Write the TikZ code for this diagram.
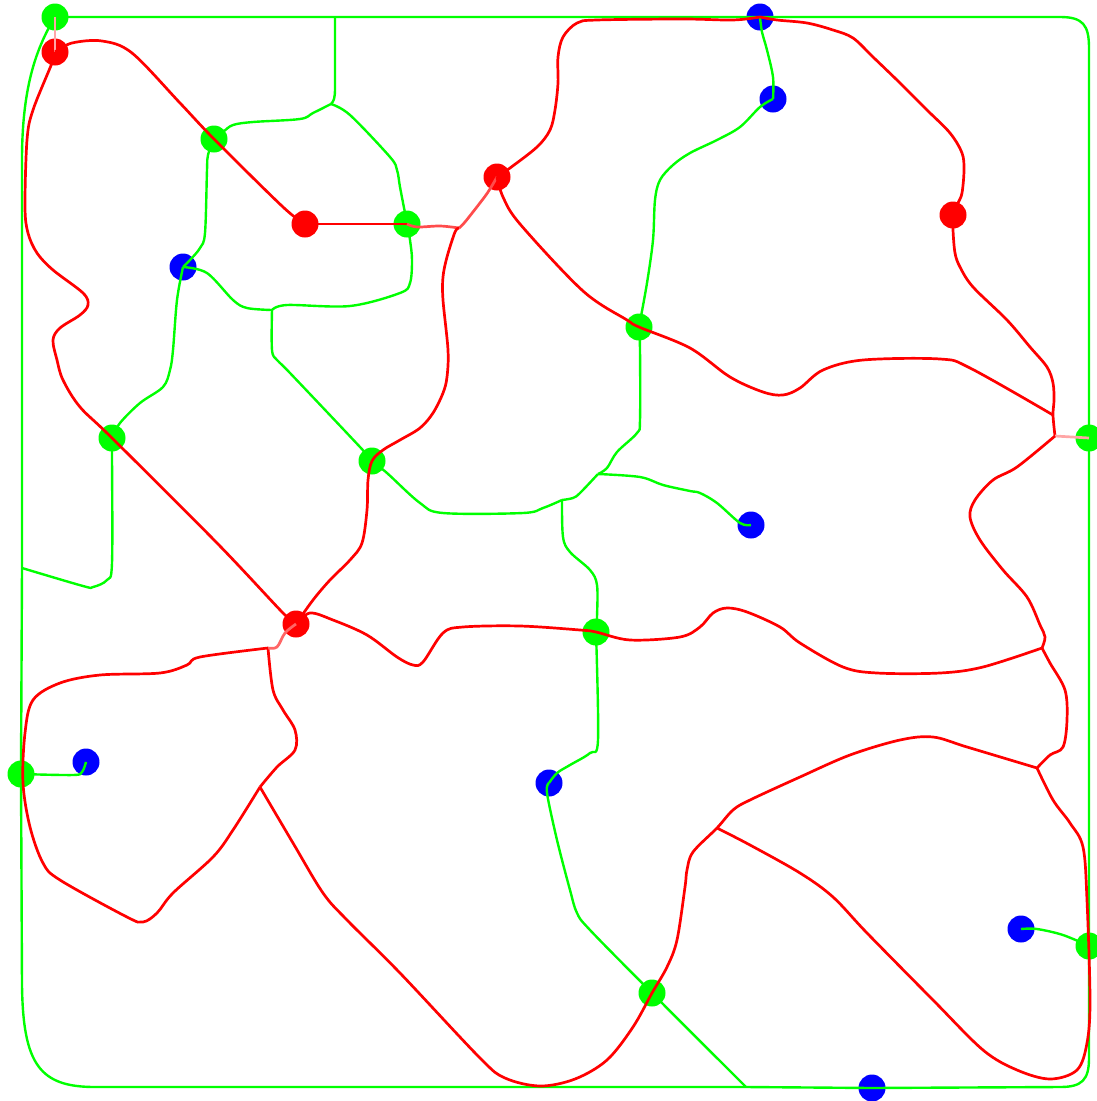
\documentclass[tikz,border=0pt]{standalone}
\usepackage{xcolor}
\usepackage{tikz}

\begin{document}
\begin{tikzpicture}[
  x=1pt, y=-1pt,
  gdot/.style={circle, fill=green, inner sep=0pt, minimum size=27pt},
  rdot/.style={circle, fill=red, inner sep=0pt, minimum size=27pt},
  bdot/.style={circle, fill=blue, inner sep=0pt, minimum size=27pt},
  gline/.style={draw=green, line width=2.4pt},
  rline/.style={draw=red, line width=2.7pt},
  pline/.style={draw=red!35, line width=2.7pt},
  crv/.style={smooth, tension=0.55}
]
\useasboundingbox (0,0) rectangle (1096,1101);
% --- green dots ---
\node[gdot] (g1) at (55,17) {};
\node[gdot] (g2) at (214,139) {};
\node[gdot] (g3) at (407,224) {};
\node[gdot] (g4) at (112,438) {};
\node[gdot] (g5) at (372,461) {};
\node[gdot] (g6) at (639,327) {};
\node[gdot] (g7) at (1089,438) {};
\node[gdot] (g8) at (596,632) {};
\node[gdot] (g9) at (21,774) {};
\node[gdot] (g10) at (652,993) {};
\node[gdot] (g11) at (1089,946) {};
% --- red dots ---
\node[rdot] (r1) at (55,52) {};
\node[rdot] (r2) at (305,224) {};
\node[rdot] (r3) at (497,177) {};
\node[rdot] (r4) at (953,215) {};
\node[rdot] (r5) at (296,624) {};
% --- blue dots ---
\node[bdot] (b1) at (760,17) {};
\node[bdot] (b2) at (773,99) {};
\node[bdot] (b3) at (183,267) {};
\node[bdot] (b4) at (751,525) {};
\node[bdot] (b5) at (86,762) {};
\node[bdot] (b6) at (549,783) {};
\node[bdot] (b7) at (1021,929) {};
\node[bdot] (b8) at (872,1088) {};
% --- junctions ---
\coordinate (jtop) at (335,17);
\coordinate (jbot) at (746,1087);
\coordinate (jleft) at (22,568);
\coordinate (jg1) at (331,104);
\coordinate (jg2) at (272,310);
\coordinate (jg3) at (562,500);
\coordinate (jg4) at (598,474);
\coordinate (jr1) at (459,228);
\coordinate (jr2) at (1055,436);
\coordinate (jr3) at (1053,415);
\coordinate (jr4) at (1042,648);
\coordinate (jr5) at (1037,768);
\coordinate (jr6) at (717,828);
\coordinate (jr7) at (260,787);
\coordinate (jr8) at (268,648);
% --- green border ---
\draw[gline] (g1.center) -- (jtop) -- (b1.center) -- (1060,17)
  .. controls (1083,17) and (1089,25) .. (1089,48) -- (g7.center) -- (g11.center)
  -- (1089,1058) .. controls (1089,1080) and (1082,1087) .. (1060,1087)
  -- (b8.center) -- (jbot) -- (95,1087) .. controls (40,1087) and (23,1065) .. (22,985)
  -- (g9.center) -- (jleft) -- (22,160) .. controls (22,90) and (35,50) .. (g1.center);
% --- green lines ---
\draw[gline] (jtop) -- (335,88) .. controls (335,98) and (334,101) .. (jg1);
\draw[gline] plot[crv] coordinates {(jg1) (313,113) (300,119) (253,122) (233,125) (223,132) (g2.center)};
\draw[gline] plot[crv] coordinates {(jg1) (350,115) (390,157) (397,170) (400,187) (405,213) (g3.center)};
\draw[gline] plot[crv] coordinates {(g2.center) (208,155) (207,170) (205,233) (200,248) (190,260) (b3.center)};
\draw[gline] plot[crv] coordinates {(b3.center) (177,300) (173,350) (170,370) (163,387) (140,403) (120,423) (g4.center)};
\draw[gline] plot[crv] coordinates {(b3.center) (207,273) (233,300) (247,308) (jg2)};
\draw[gline] plot[crv] coordinates {(jg2) (287,305) (350,306) (400,293) (410,283) (412,260) (410,240) (g3.center)};
\draw[gline] plot[crv] coordinates {(jg2) (272,350) (277,360) (290,373) (360,447) (g5.center)};
\draw[gline] plot[crv] coordinates {(g4.center) (112,453) (112,563) (107,580) (93,587) (83,586) (jleft)};
\draw[gline] plot[crv] coordinates {(g5.center) (387,473) (420,503) (443,513) (523,513) (543,508) (jg3)};
\draw[gline] plot[crv] coordinates {(jg3) (573,498) (580,493) (jg4)};
\draw[gline] plot[crv] coordinates {(jg3) (563,537) (570,552) (590,570) (597,585) (597,617) (g8.center)};
\draw[gline] plot[crv] coordinates {(jg4) (607,468) (617,452) (637,433) (640,420) (640,350) (g6.center)};
\draw[gline] plot[crv] coordinates {(jg4) (640,477) (663,485) (690,491) (700,493) (717,503) (740,523) (b4.center)};
\draw[gline] plot[crv] coordinates {(g6.center) (647,283) (653,240) (655,200) (660,180) (673,165) (690,153) (717,140) (740,127) (760,107) (b2.center)};
\draw[gline] plot[crv] coordinates {(b2.center) (773,77) (767,50) (762,32) (b1.center)};
\draw[gline] plot[crv] coordinates {(g8.center) (598,740) (590,753) (570,765) (557,773) (b6.center)};
\draw[gline] plot[crv] coordinates {(b6.center) (547,793) (557,840) (570,890) (577,913) (590,930) (g10.center) (jbot)};
\draw[gline] plot[crv] coordinates {(g9.center) (73,775) (82,772) (b5.center)};
\draw[gline] plot[crv] coordinates {(b7.center) (1037,929) (1063,935) (g11.center)};
% --- red lines ---
\draw[pline] (g1.center) -- (r1.center);
\draw[rline] plot[crv] coordinates {(r1.center) (72,43) (102,41) (132,53) (180,103) (g2.center) (283,207) (r2.center)};
\draw[rline] plot[crv] coordinates {(r1.center) (52,63) (33,110) (27,140) (25,207) (28,233) (37,253) (53,270) (83,293) (88,305) (80,315) (60,328) (53,340) (57,360) (63,380) (80,407) (g4.center) (217,543) (283,613) (r5.center)};
\draw[rline] (r2.center) -- (g3.center);
\draw[draw=red!70, line width=2.7pt] plot[crv] coordinates {(g3.center) (417,227) (440,226) (jr1)};
\draw[draw=red!70, line width=2.7pt] plot[crv] coordinates {(jr1) (465,222) (483,199) (490,189) (r3.center)};
\draw[rline] plot[crv] coordinates {(jr1) (455,232) (447,257) (443,277) (443,300) (448,350) (447,377) (443,393) (433,413) (420,428) (400,440) (383,450) (g5.center) (368,480) (367,510) (362,543) (350,560) (330,580) (313,600) (r5.center)};
\draw[rline] plot[crv] coordinates {(r3.center) (510,168) (537,147) (550,130) (555,110) (558,83) (558,57) (563,37) (577,23) (597,20) (683,19) (733,20) (b1.center)};
\draw[rline] plot[crv] coordinates {(b1.center) (777,20) (807,23) (833,30) (853,38) (873,57) (900,83) (927,110) (950,133) (962,153) (964,170) (962,193) (958,203) (r4.center)};
\draw[rline] plot[crv] coordinates {(r4.center) (953,230) (955,253) (960,267) (973,287) (1007,320) (1030,347) (1047,367) (1053,383) (1054,400) (jr3) (jr2)};
\draw[rline] plot[crv] coordinates {(r3.center) (503,197) (520,224) (583,291) (627,320) (g6.center) (690,348) (730,377) (763,392) (783,395) (800,388) (823,370) (863,360) (940,359) (970,368) (jr3)};
\draw[pline] (jr2) -- (g7.center);
\draw[rline] plot[crv] coordinates {(jr2) (1017,467) (993,480) (975,500) (970,517) (980,540) (1003,570) (1027,597) (1040,625) (1045,637) (jr4)};
\draw[rline] plot[crv] coordinates {(r5.center) (310,613) (333,620) (367,635) (397,657) (413,665) (423,662) (443,633) (463,627) (520,626) (580,630) (g8.center) (630,640) (680,637) (700,627) (713,613) (727,608) (747,612) (780,627) (800,643) (843,667) (877,673) (940,673) (983,667) (jr4)};
\draw[rline] plot[crv] coordinates {(jr4) (1050,663) (1065,690) (1067,720) (1063,747) (1050,755) (jr5)};
\draw[rline] plot[crv] coordinates {(jr5) (967,747) (933,737) (900,740) (850,755) (800,777) (750,800) (733,810) (jr6) (693,852) (687,870) (685,887) (677,940) (667,967) (g10.center) (633,1027) (607,1060) (575,1079) (540,1086) (505,1078) (480,1058) (400,973) (347,920) (323,893) (293,843) (jr7)};
\draw[rline] plot[crv] coordinates {(jr6) (750,845) (800,873) (833,897) (867,933) (933,1000) (983,1050) (1017,1070) (1050,1079) (1077,1070) (1087,1043) (1090,1000) (1087,900) (1083,847) (1070,823) (1053,800) (jr5)};
\draw[rline] plot[crv] coordinates {(jr7) (277,767) (295,750) (295,730) (283,710) (273,690) (jr8)};
\draw[draw=red!60, line width=2.7pt] plot[crv] coordinates {(jr8) (277,647) (285,633) (r5.center)};
\draw[rline] plot[crv] coordinates {(jr8) (200,657) (187,665) (160,673) (100,675) (60,683) (33,700) (25,733) (23,783) (30,827) (43,863) (60,880) (127,917) (143,922) (157,913) (173,893) (213,857) (233,830) (jr7)};
\end{tikzpicture}
\end{document}
